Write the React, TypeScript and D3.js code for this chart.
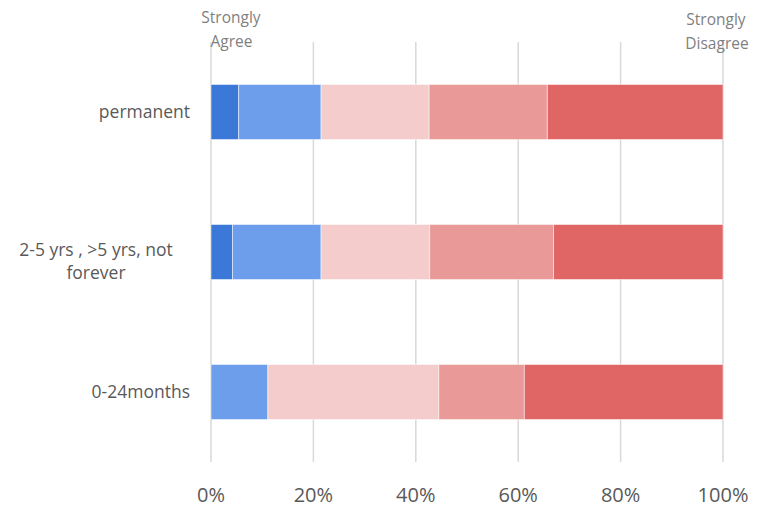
import React from "react";
import * as d3 from "d3";

// Survey responses by tenure length, as share of respondents (%)
const categories = ["permanent", "2-5 yrs , >5 yrs, not forever", "0-24months"];
const categoryLines = [["permanent"], ["2-5 yrs , >5 yrs, not", "forever"], ["0-24months"]];
const seriesNames = ["Strongly Agree", "Agree", "Neutral", "Disagree", "Strongly Disagree"];
const stronglyAgree = [5.4, 4.2, 0];
const agree = [16.1, 17.3, 11.1];
const neutral = [21.1, 21.2, 33.4];
const disagree = [23.1, 24.2, 16.7];
const stronglyDisagree = [34.3, 33.1, 38.8];
const xTicks = [0, 20, 40, 60, 80, 100];
const colors = ["#3c78d8", "#6d9eeb", "#f4cccc", "#ea9999", "#e06666"];

const W = 767;
const H = 507;

export default function App() {
  const x = d3.scaleLinear().domain([0, 100]).range([211, 723]);
  const y = d3
    .scaleBand<string>()
    .domain(categories)
    .range([42, 462])
    .paddingInner(0.607)
    .paddingOuter(0.3035);

  const table = categories.map((c, i) => ({
    category: c,
    "Strongly Agree": stronglyAgree[i],
    Agree: agree[i],
    Neutral: neutral[i],
    Disagree: disagree[i],
    "Strongly Disagree": stronglyDisagree[i],
  }));
  const stacked = d3.stack<any>().keys(seriesNames)(table);

  const textColor = "#595959";
  const font = "'Open Sans', 'Segoe UI', sans-serif";

  return (
    <svg
      width={W}
      height={H}
      style={{ position: "absolute", left: 0, top: 0, background: "#fff" }}
      fontFamily={font}
    >
      {xTicks.map((t) => (
        <line
          key={"g" + t}
          x1={x(t)}
          x2={x(t)}
          y1={42}
          y2={462}
          stroke="#d9d9d9"
          strokeWidth={1.5}
        />
      ))}
      {stacked.map((s, si) =>
        s.map((d, i) =>
          d[1] - d[0] > 0 ? (
            <rect
              key={si + "-" + i}
              x={x(d[0])}
              y={y(categories[i])}
              width={x(d[1]) - x(d[0])}
              height={y.bandwidth()}
              fill={colors[si]}
              stroke="#ffffff"
              strokeOpacity={0.5}
              strokeWidth={1}
            />
          ) : null
        )
      )}
      {categories.map((c, i) => {
        const lines = categoryLines[i];
        const cy = (y(c) as number) + y.bandwidth() / 2;
        if (lines.length === 1) {
          return (
            <text
              key={c}
              x={190}
              y={cy}
              dy="0.35em"
              textAnchor="end"
              fontSize={17.5}
              fill={textColor}
            >
              {lines[0]}
            </text>
          );
        }
        return (
          <text key={c} x={96} textAnchor="middle" fontSize={17.5} fill={textColor}>
            {lines.map((l, li) => (
              <tspan key={li} x={96} y={cy - 2 + li * 23} dy="0.35em">
                {l}
              </tspan>
            ))}
          </text>
        );
      })}
      {xTicks.map((t) => (
        <text
          key={"t" + t}
          x={x(t)}
          y={502}
          textAnchor="middle"
          fontSize={20}
          fill={textColor}
        >
          {t + "%"}
        </text>
      ))}
      <text textAnchor="middle" fontSize={15.5} fill="#7f7f7f">
        <tspan x={231} y={23}>Strongly</tspan>
        <tspan x={231.5} y={47}>Agree</tspan>
      </text>
      <text textAnchor="middle" fontSize={15.5} fill="#7f7f7f">
        <tspan x={716} y={25}>Strongly</tspan>
        <tspan x={717} y={49}>Disagree</tspan>
      </text>
    </svg>
  );
}
